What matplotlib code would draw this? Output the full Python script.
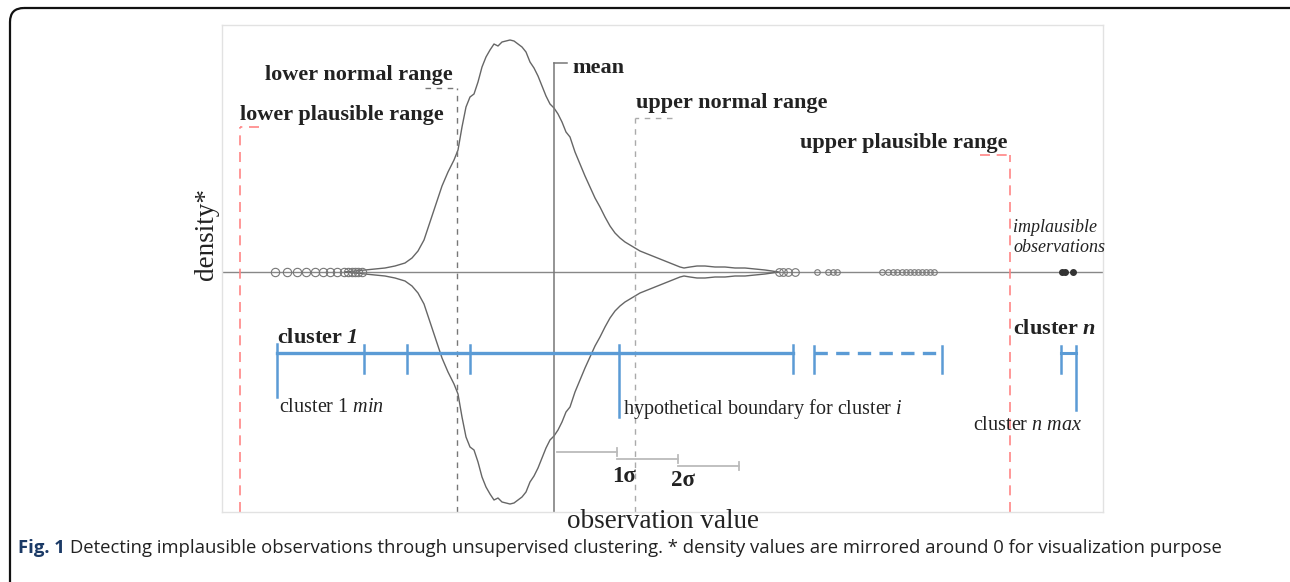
import matplotlib.pyplot as plt
from matplotlib.patches import FancyBboxPatch
import numpy as np

plt.rcParams['font.family'] = ['Liberation Serif', 'DejaVu Serif']
plt.rcParams['mathtext.fontset'] = 'custom'
plt.rcParams['mathtext.rm'] = 'Liberation Serif'
plt.rcParams['mathtext.it'] = 'Liberation Serif:italic'
plt.rcParams['mathtext.bf'] = 'Liberation Serif:bold'
plt.rcParams['mathtext.bfit'] = 'Liberation Serif:italic:bold'

# density profile (upper half, mirrored below the baseline)
obs = [345, 355, 365, 375, 385, 395, 405, 412, 418, 424, 430, 436, 442, 448,
       454, 458, 462, 466, 470, 474, 478, 482, 486, 490, 494, 498, 502, 506,
       510, 514, 518, 522, 526, 530, 534, 538, 542, 546, 550, 554, 558, 562,
       566, 570, 575, 580, 585, 590, 595, 600, 605, 610, 615, 620, 625, 630,
       635, 640, 645, 650, 655, 660, 665, 670, 675, 680, 684, 690, 697, 705,
       715, 725, 735, 745, 755, 765, 772, 778]
dens = [0, 1, 2, 3, 4, 6, 9, 14, 21, 32, 50, 68, 86, 100,
        112, 122, 145, 165, 175, 178, 190, 205, 215, 222, 228, 226, 230, 231,
        232, 231, 228, 225, 220, 210, 204, 196, 186, 176, 168, 164, 158, 150,
        140, 135, 120, 108, 96, 85, 74, 65, 55, 46, 39, 34, 30, 27,
        24, 21, 19, 17, 15, 13, 11, 9, 7, 5, 4, 5, 6, 6,
        5, 5, 4, 4, 3, 2, 1, 0]

# individual observations in the tails
tail_left = [275, 287, 297, 306, 315, 323, 330, 337, 344, 348, 352, 355, 358, 362]
tail_right = [779, 783, 788, 795, 817, 828, 833, 837,
              882, 888, 893, 897, 902, 906, 910, 914, 918, 922, 926, 930, 934]
implausible = [1062, 1065, 1073]

# reference lines
mean_val = 554
lower_normal, upper_normal = 457, 635
lower_plaus, upper_plaus = 240, 1010

# clusters
cluster1 = [277, 793]
cluster1_ticks = [364, 407, 470]
boundary_i = 619
cluster_mid = [814, 942]
cluster_n = [1061, 1076]

# sigma steps
sigma_steps = [557, 617, 678, 739]

blue = '#5b9bd5'
red = '#ff8585'
ink = '#222222'

fig = plt.figure(figsize=(12.9, 5.82), dpi=100)

# outer frame
bg = fig.add_axes([0, 0, 1, 1])
bg.set_xlim(0, 1290)
bg.set_ylim(582, 0)
bg.axis('off')
bg.add_patch(FancyBboxPatch((10, 8), 1300, 600, boxstyle='round,pad=0,rounding_size=14',
                            fc='none', ec='#111111', lw=1.6))

ax = fig.add_axes([222 / 1290, 70 / 582, 881 / 1290, 487 / 582])
ax.set_xlim(222, 1103)
ax.set_ylim(-240, 247)
ax.set_xticks([])
ax.set_yticks([])
for s in ax.spines.values():
    s.set_color('#e2e2e2')
    s.set_linewidth(1)

ax.axhline(0, color='#888888', lw=1)

ax.plot(obs, dens, color='#666666', lw=1)
ax.plot(obs, [-d for d in dens], color='#666666', lw=1)

mk = dict(ls='none', marker='o', mfc='none', mec='#777777', mew=0.8)
ax.plot(tail_left, np.zeros(len(tail_left)), ms=6, **mk)
ax.plot(tail_right[:4], np.zeros(4), ms=5.5, **mk)
ax.plot(tail_right[4:], np.zeros(len(tail_right) - 4), ms=4, **mk)
ax.plot(implausible, np.zeros(len(implausible)), ls='none', marker='o',
        color='#333333', ms=4)

# range markers with their caps
def marker_line(x, top, cap, **kw):
    ax.plot([x, x], [-240, top], **kw)
    ax.plot([cap, x], [top, top], **kw)

marker_line(lower_plaus, 145, 259, color=red, lw=1.2, ls=(0, (6, 4)))
marker_line(upper_plaus, 117, 980, color=red, lw=1.2, ls=(0, (6, 4)))
marker_line(lower_normal, 184, 425, color='#777777', lw=1, ls=(0, (4, 4)))
marker_line(upper_normal, 154, 672, color='#aaaaaa', lw=1, ls=(0, (4, 4)))
marker_line(mean_val, 209, 567, color='#777777', lw=1.1, ls='-')

lab = dict(fontsize=16, fontweight='bold', color=ink, va='center')
ax.text(240, 157, 'lower plausible range', ha='left', **lab)
ax.text(453, 197, 'lower normal range', ha='right', **lab)
ax.text(572, 204, 'mean', ha='left', **lab)
ax.text(636, 169, 'upper normal range', ha='left', **lab)
ax.text(1008, 129, 'upper plausible range', ha='right', **lab)

ax.text(1013, 44, 'implausible', fontsize=13, style='italic', color=ink, va='center')
ax.text(1013, 24, 'observations', fontsize=13, style='italic', color=ink, va='center')

# clusters
ax.plot(cluster1, [-81, -81], color=blue, lw=2.4)
ax.plot([cluster1[0]] * 2, [-72, -125], color=blue, lw=1.8)
for t in cluster1_ticks + [cluster1[1]]:
    ax.plot([t, t], [-73, -101], color=blue, lw=1.8)
ax.plot([boundary_i] * 2, [-73, -145], color=blue, lw=1.8)
ax.plot(cluster_mid, [-81, -81], color=blue, lw=2.4, ls=(0, (4, 2.5)))
for t in cluster_mid:
    ax.plot([t, t], [-74, -101], color=blue, lw=1.8)
ax.plot(cluster_n, [-81, -81], color=blue, lw=2.2)
ax.plot([cluster_n[0]] * 2, [-74, -101], color=blue, lw=1.8)
ax.plot([cluster_n[1]] * 2, [-74, -138], color=blue, lw=1.8)

ax.text(277, -66, r'cluster $\mathbfit{1}$', fontsize=16, fontweight='bold',
        color=ink, va='center')
ax.text(1013, -57, r'cluster $\mathbfit{n}$', fontsize=16, fontweight='bold',
        color=ink, va='center')
ax.text(279, -136, r'cluster $\mathit{1\ min}$', fontsize=14.5, color=ink, va='center')
ax.text(623, -137, r'hypothetical boundary for cluster $\mathit{i}$', fontsize=14.5,
        color=ink, va='center')
ax.text(973, -153, r'cluster $\mathit{n\ max}$', fontsize=14.5, color=ink, va='center')

# sigma steps
for i in range(3):
    y = -180 - 7 * i
    ax.plot(sigma_steps[i:i + 2], [y, y], color='#bbbbbb', lw=1.3)
    ax.plot([sigma_steps[i + 1]] * 2, [y + 4, y - 4], color='#bbbbbb', lw=1.3)
ax.text(624, -205, '1σ', fontsize=16.5, fontweight='bold', ha='center', va='center',
        color=ink)
ax.text(683, -208, '2σ', fontsize=16.5, fontweight='bold', ha='center', va='center',
        color=ink)

# axis titles
fig.text(207 / 1290, 1 - 234 / 582, 'density*', rotation=90, fontsize=19.5,
         ha='center', va='center', color=ink)
fig.text(663 / 1290, 1 - 522 / 582, 'observation value', fontsize=19.5,
         ha='center', va='center', color=ink)

# caption
cap = fig.text(18 / 1290, 1 - 548 / 582, 'Fig. 1', fontsize=13.3, fontweight='bold',
               family='Open Sans', color='#1b3a66', va='center')
bg.annotate('Detecting implausible observations through unsupervised clustering. '
            '* density values are mirrored around 0 for visualization purpose',
            xy=(1, 0.5), xycoords=cap, xytext=(4, 0), textcoords='offset points',
            fontsize=13.3, family='Open Sans', color=ink, va='center')

fig.savefig('out.png', dpi=100)
